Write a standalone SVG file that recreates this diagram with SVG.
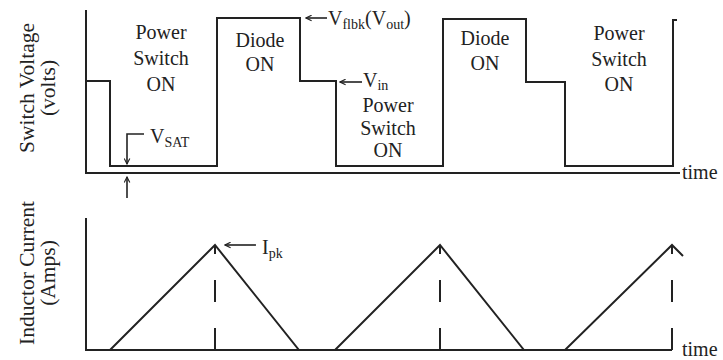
<svg xmlns="http://www.w3.org/2000/svg" width="723" height="360" viewBox="0 0 723 360">
<style>
.ln{fill:none;stroke:#222;stroke-width:2;stroke-linejoin:miter}
.th{fill:none;stroke:#222;stroke-width:1.6}
.t{fill:#222;font-size:20px}
.c{text-anchor:middle}
.ax{font-size:21.5px}
.sub{font-size:14px}
</style>
<defs>
<marker id="ah" viewBox="0 0 10 10" refX="9" refY="5" markerWidth="7" markerHeight="7" markerUnits="userSpaceOnUse" orient="auto"><path d="M1,1 L9,5 L1,9" fill="none" stroke="#222" stroke-width="1.6"/></marker>
</defs>
<rect width="723" height="360" fill="#fff"/>
<g font-family="'Liberation Serif', 'Times New Roman', serif">
<g id="axes">
<path class="ln" d="M86,10 V173 H680"/>
<path class="ln" d="M86,218 V350 H672"/>
<text class="t" x="682" y="179" style="font-size:20px">time</text>
<text class="t" x="682" y="356" style="font-size:20px">time</text>
<text class="t c ax" transform="translate(34,88) rotate(-90)">Switch Voltage</text>
<text class="t c ax" transform="translate(55,88) rotate(-90)">(volts)</text>
<text class="t c ax" transform="translate(34,273) rotate(-90)">Inductor Current</text>
<text class="t c ax" transform="translate(55,273) rotate(-90)">(Amps)</text>
</g>
<g id="switch-voltage">
<path class="ln" d="M86,81 H110 V166 H217 V18 H300 V81 H336 V166 H443 V19 H526 V82 H565 V166 H673 V20 H677"/>
</g>
<g id="inductor-current">
<path class="ln" d="M110,350 L215,245 L299,350 H335 L440,245 L524,350 H565 L672,245 L683,256"/>
<path class="ln" stroke-dasharray="22 26" d="M215,350 V245 M440,350 V245 M672,350 V245"/>
</g>
<g id="labels">
<text class="t c" x="161" y="39">Power</text>
<text class="t c" x="161" y="65">Switch</text>
<text class="t c" x="161" y="91">ON</text>
<text class="t c" x="260" y="47">Diode</text>
<text class="t c" x="260" y="71">ON</text>
<text class="t c" x="388" y="112">Power</text>
<text class="t c" x="388" y="135">Switch</text>
<text class="t c" x="388" y="157">ON</text>
<text class="t c" x="485" y="45">Diode</text>
<text class="t c" x="485" y="70">ON</text>
<text class="t c" x="619" y="40">Power</text>
<text class="t c" x="619" y="66">Switch</text>
<text class="t c" x="619" y="91">ON</text>
<text class="t" x="328" y="25">V<tspan class="sub" dy="4">flbk</tspan><tspan dy="-4">(V</tspan><tspan class="sub" dy="4">out</tspan><tspan dy="-4">)</tspan></text>
<text class="t" x="363" y="87">V<tspan class="sub" dy="3">in</tspan></text>
<text class="t" x="150" y="143">V<tspan class="sub" dy="4">SAT</tspan></text>
<text class="t" x="262" y="254">I<tspan class="sub" dy="4">pk</tspan></text>
</g>
</g>
<g id="connectors">
<path class="th" marker-end="url(#ah)" d="M327,18 H306"/>
<path class="th" marker-end="url(#ah)" d="M362,82 H340"/>
<path class="th" marker-end="url(#ah)" d="M144,134 H127 V164"/>
<path class="th" marker-end="url(#ah)" d="M127,198 V177"/>
<path class="th" marker-end="url(#ah)" d="M256,245 H225"/>
</g>
</svg>
